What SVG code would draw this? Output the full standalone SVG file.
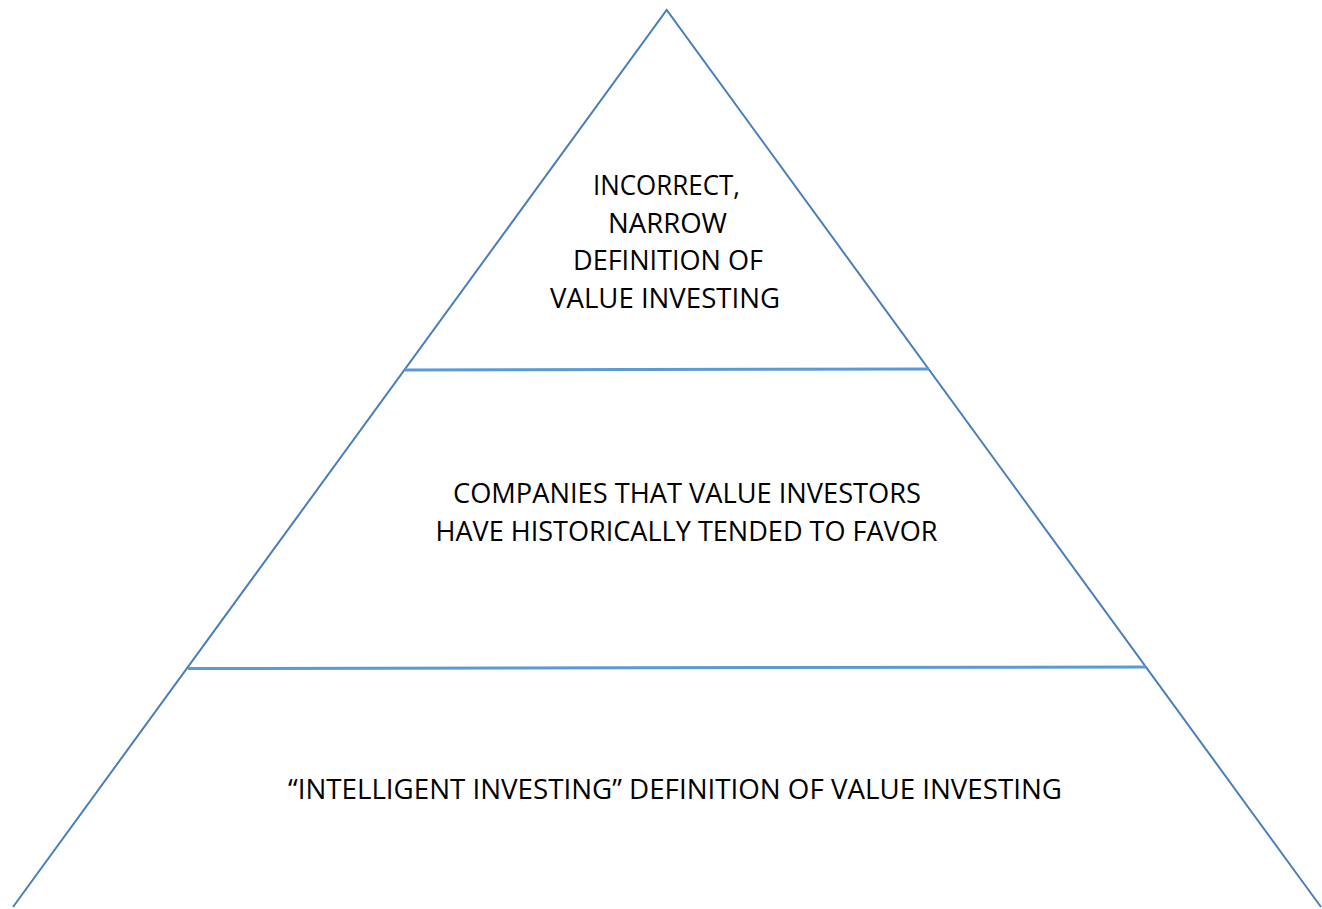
<svg xmlns="http://www.w3.org/2000/svg" width="1322" height="909" viewBox="0 0 1322 909">
<style>
.tri{fill:none;stroke:#4a7ebb;stroke-width:2}
.div{stroke:#5b9bd5;stroke-width:3}
.lbl{font-family:"Open Sans","Noto Sans","Liberation Sans",sans-serif;font-size:28px;fill:#000;text-anchor:middle}
</style>
<rect width="1322" height="909" fill="#fff"/>
<g id="connectors">
<polyline class="tri" points="13,907 666.7,10 1321,907"/>
<line class="div" x1="405" y1="370" x2="929" y2="369"/>
<line class="div" x1="188" y1="668.5" x2="1146" y2="667"/>
</g>
<g id="tier-top">
<text class="lbl" x="666.5" y="195" textLength="147" lengthAdjust="spacingAndGlyphs">INCORRECT,</text>
<text class="lbl" x="667.5" y="232.5" textLength="119" lengthAdjust="spacingAndGlyphs">NARROW</text>
<text class="lbl" x="668" y="270" textLength="190" lengthAdjust="spacingAndGlyphs">DEFINITION OF</text>
<text class="lbl" x="665" y="307.5" textLength="230" lengthAdjust="spacingAndGlyphs">VALUE INVESTING</text>
</g>
<g id="tier-middle">
<text class="lbl" x="687" y="503" textLength="468" lengthAdjust="spacingAndGlyphs">COMPANIES THAT VALUE INVESTORS</text>
<text class="lbl" x="686.5" y="541" textLength="502" lengthAdjust="spacingAndGlyphs">HAVE HISTORICALLY TENDED TO FAVOR</text>
</g>
<g id="tier-bottom">
<text class="lbl" x="675" y="799" textLength="774" lengthAdjust="spacingAndGlyphs">“INTELLIGENT INVESTING” DEFINITION OF VALUE INVESTING</text>
</g>
</svg>
